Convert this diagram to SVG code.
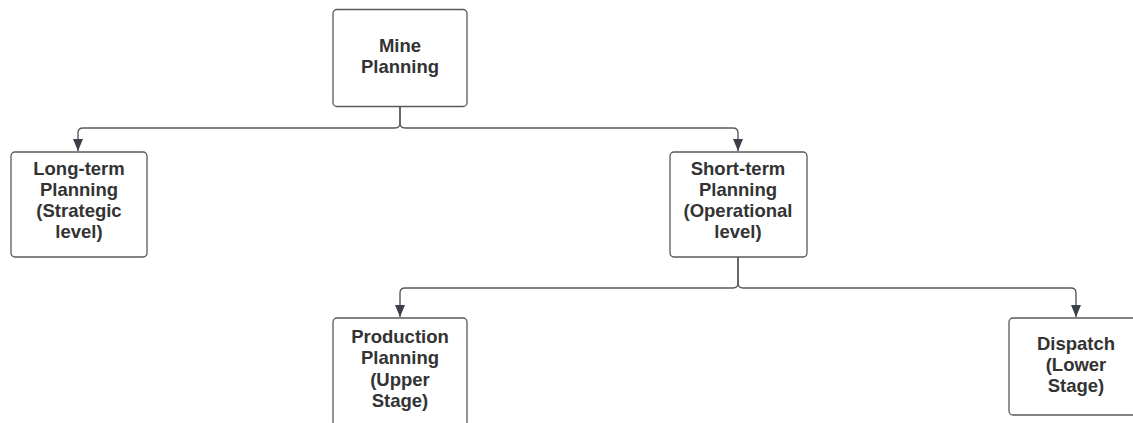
<svg xmlns="http://www.w3.org/2000/svg" width="1133" height="423" viewBox="0 0 1133 423">
<defs>
<style>
.box{fill:#fff;stroke:#5a5a5a;stroke-width:1.3}
.t{font-family:"Liberation Sans",Arial,sans-serif;font-weight:bold;font-size:18.5px;fill:#333;text-anchor:middle}
.c{fill:none;stroke:#5a5a5a;stroke-width:1.4}
</style>
<marker id="ah" viewBox="0 0 12 10" refX="12" refY="5" markerWidth="12" markerHeight="10" markerUnits="userSpaceOnUse" orient="auto">
<path d="M0,0 L12,5 L0,10 z" fill="#3a3f48"/>
</marker>
</defs>
<rect width="1133" height="423" fill="#fff"/>
<g id="connectors">
<path class="c" d="M400,107 V123 Q400,128 395,128 H83 Q78,128 78,133 V151" marker-end="url(#ah)"/>
<path class="c" d="M400,107 V123 Q400,128 405,128 H733 Q738,128 738,133 V151" marker-end="url(#ah)"/>
<path class="c" d="M738,257 V283 Q738,288 733,288 H405 Q400,288 400,293 V317" marker-end="url(#ah)"/>
<path class="c" d="M738,257 V283 Q738,288 743,288 H1071 Q1076,288 1076,293 V317" marker-end="url(#ah)"/>
</g>
<g id="mine">
<rect class="box" x="333" y="9.5" width="134" height="97" rx="4"/>
<text class="t" x="400" y="52">Mine</text>
<text class="t" x="400" y="73">Planning</text>
</g>
<g id="longterm">
<rect class="box" x="11" y="152" width="136" height="105" rx="4"/>
<text class="t" x="79" y="175">Long-term</text>
<text class="t" x="79" y="196">Planning</text>
<text class="t" x="79" y="217">(Strategic</text>
<text class="t" x="79" y="238">level)</text>
</g>
<g id="shortterm">
<rect class="box" x="670" y="152" width="137" height="105" rx="4"/>
<text class="t" x="738" y="175">Short-term</text>
<text class="t" x="738" y="196">Planning</text>
<text class="t" x="738" y="217">(Operational</text>
<text class="t" x="738" y="238">level)</text>
</g>
<g id="production">
<rect class="box" x="333" y="318" width="134" height="115" rx="4"/>
<text class="t" x="400" y="343">Production</text>
<text class="t" x="400" y="364">Planning</text>
<text class="t" x="400" y="386">(Upper</text>
<text class="t" x="400" y="407">Stage)</text>
</g>
<g id="dispatch">
<rect class="box" x="1009" y="318" width="140" height="97" rx="4"/>
<text class="t" x="1076" y="350">Dispatch</text>
<text class="t" x="1076" y="371">(Lower</text>
<text class="t" x="1076" y="392">Stage)</text>
</g>
</svg>
